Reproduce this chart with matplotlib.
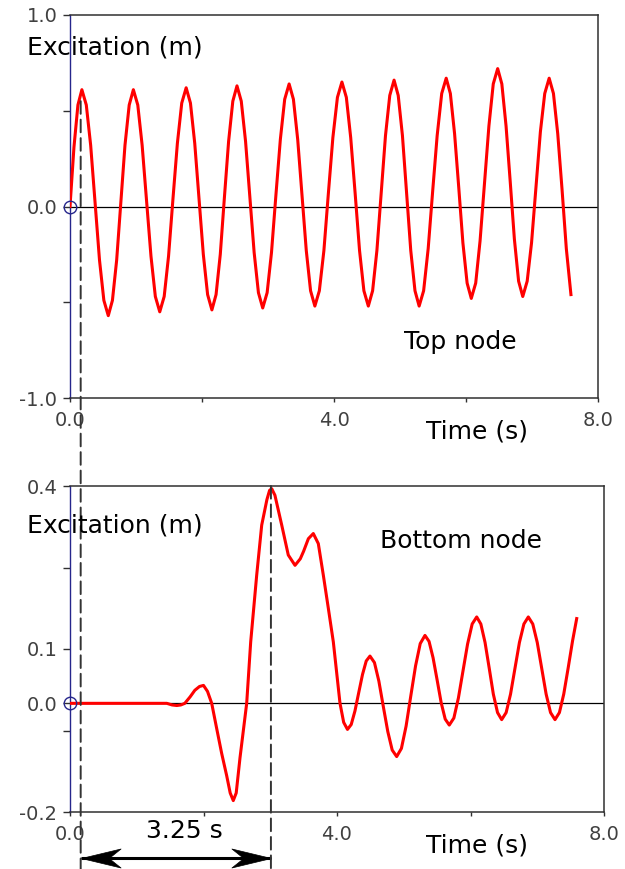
import matplotlib
matplotlib.use("Agg")
import matplotlib.pyplot as plt
from matplotlib.patches import ConnectionPatch
from matplotlib.path import Path
from matplotlib.transforms import blended_transform_factory

# ---------------- data ----------------
top_t = [0.00, 0.06, 0.12, 0.18,
         0.247, 0.313, 0.38, 0.447, 0.513, 0.58,
         0.643, 0.707, 0.77, 0.833, 0.897, 0.96,
         1.027, 1.093, 1.16, 1.227, 1.293, 1.36,
         1.427, 1.493, 1.56, 1.627, 1.693, 1.76,
         1.825, 1.89, 1.955, 2.02, 2.085, 2.15,
         2.213, 2.277, 2.34, 2.403, 2.467, 2.53,
         2.595, 2.66, 2.725, 2.79, 2.855, 2.92,
         2.987, 3.053, 3.12, 3.187, 3.253, 3.32,
         3.385, 3.45, 3.515, 3.58, 3.645, 3.71,
         3.778, 3.847, 3.915, 3.983, 4.052, 4.12,
         4.187, 4.253, 4.32, 4.387, 4.453, 4.52,
         4.585, 4.65, 4.715, 4.78, 4.845, 4.91,
         4.973, 5.037, 5.10, 5.163, 5.227, 5.29,
         5.358, 5.427, 5.495, 5.563, 5.632, 5.70,
         5.763, 5.827, 5.89, 5.953, 6.017, 6.08,
         6.147, 6.213, 6.28, 6.347, 6.413, 6.48,
         6.543, 6.607, 6.67, 6.733, 6.797, 6.86,
         6.927, 6.993, 7.06, 7.127, 7.193, 7.26,
         7.325, 7.39, 7.455, 7.52, 7.59]
top_v = [0.00, 0.31, 0.53, 0.61,
         0.53, 0.32, 0.02, -0.28, -0.49, -0.57,
         -0.49, -0.28, 0.02, 0.32, 0.53, 0.61,
         0.53, 0.32, 0.03, -0.26, -0.47, -0.55,
         -0.47, -0.26, 0.04, 0.33, 0.54, 0.62,
         0.54, 0.33, 0.04, -0.25, -0.46, -0.54,
         -0.46, -0.25, 0.05, 0.34, 0.55, 0.63,
         0.55, 0.34, 0.05, -0.24, -0.45, -0.53,
         -0.45, -0.24, 0.06, 0.35, 0.56, 0.64,
         0.56, 0.35, 0.06, -0.23, -0.44, -0.52,
         -0.44, -0.23, 0.07, 0.36, 0.57, 0.65,
         0.57, 0.36, 0.07, -0.23, -0.44, -0.52,
         -0.44, -0.23, 0.07, 0.37, 0.58, 0.66,
         0.58, 0.37, 0.07, -0.23, -0.44, -0.52,
         -0.44, -0.22, 0.08, 0.37, 0.59, 0.67,
         0.59, 0.38, 0.10, -0.19, -0.40, -0.48,
         -0.40, -0.18, 0.12, 0.42, 0.64, 0.72,
         0.64, 0.42, 0.13, -0.17, -0.39, -0.47,
         -0.39, -0.19, 0.10, 0.39, 0.59, 0.67,
         0.59, 0.38, 0.09, -0.22, -0.46]

bot_t = [0.00, 1.45, 1.53, 1.60, 1.66, 1.72,
         1.80, 1.87, 1.94, 2.00,
         2.06, 2.123, 2.197, 2.272, 2.347, 2.40, 2.446,
         2.49, 2.547, 2.647, 2.707, 2.797, 2.872, 2.95, 2.99, 3.022,
         3.07, 3.172, 3.27, 3.371,
         3.45, 3.50, 3.571, 3.645,
         3.72, 3.795, 3.87, 3.945, 4.045, 4.10, 4.157,
         4.213, 4.269, 4.326, 4.382, 4.438, 4.494,
         4.561, 4.627, 4.694, 4.761, 4.827, 4.894,
         4.965, 5.035, 5.106, 5.177, 5.247, 5.318,
         5.379, 5.439, 5.50, 5.561, 5.621, 5.682,
         5.751, 5.819, 5.888, 5.956, 6.025, 6.093,
         6.155, 6.218, 6.28, 6.342, 6.405, 6.467,
         6.534, 6.60, 6.667, 6.733, 6.80, 6.866,
         6.933, 7.0, 7.066, 7.133, 7.199, 7.266,
         7.332, 7.397, 7.463, 7.529, 7.591]
bot_v = [0.0, 0.0, -0.003, -0.004, -0.003, 0.0,
         0.012, 0.024, 0.031, 0.033,
         0.022, 0.0, -0.046, -0.092, -0.133, -0.165, -0.179,
         -0.165, -0.100, 0.0, 0.113, 0.236, 0.328, 0.375, 0.392, 0.395,
         0.383, 0.328, 0.273, 0.254,
         0.266, 0.280, 0.303, 0.3125,
         0.294, 0.236, 0.175, 0.113, 0.0, -0.035, -0.048,
         -0.039, -0.014, 0.020, 0.053, 0.078, 0.087,
         0.075, 0.041, -0.006, -0.052, -0.086, -0.098,
         -0.083, -0.042, 0.014, 0.069, 0.110, 0.125,
         0.114, 0.084, 0.043, 0.001, -0.029, -0.040,
         -0.027, 0.010, 0.060, 0.109, 0.146, 0.159,
         0.146, 0.112, 0.065, 0.017, -0.017, -0.030,
         -0.017, 0.017, 0.065, 0.112, 0.146, 0.159,
         0.146, 0.112, 0.065, 0.017, -0.017, -0.030,
         -0.017, 0.017, 0.065, 0.115, 0.156]

x_major = [0, 4, 8]
x_major_labels = ["0.0", "4.0", "8.0"]
x_minor = [2, 6]

top_y_major = [-1.0, 0.0, 1.0]
top_y_labels = ["-1.0", "0.0", "1.0"]
top_y_minor = [-0.5, 0.5]

bot_y_major = [-0.2, 0.0, 0.1, 0.4]
bot_y_labels = ["-0.2", "0.0", "0.1", "0.4"]
bot_y_minor = [-0.05, 0.25]

delay_start = 0.16   # s, first dashed marker
delay_end = 3.01     # s, second dashed marker
delay_label = "3.25 s"

# ---------------- figure ----------------
W, H = 625, 869
fig = plt.figure(figsize=(W / 100, H / 100), dpi=100)
plt.rcParams["font.family"] = ["DejaVu Sans"]

ax1 = fig.add_axes([70 / W, 1 - 398 / H, 528 / W, 383 / H])
ax2 = fig.add_axes([70 / W, 1 - 812 / H, 534 / W, 326 / H])

FRAME = "#303030"
BLUE = "#26268c"
RED = "#ff0000"


def style(ax, ylim, ymaj, ylab, ymin):
    ax.set_xlim(0, 8)
    ax.set_ylim(*ylim)
    for s in ["top", "right", "bottom"]:
        ax.spines[s].set_color(FRAME)
        ax.spines[s].set_linewidth(1.1)
    ax.spines["left"].set_color(BLUE)
    ax.spines["left"].set_linewidth(1.0)
    ax.set_xticks(x_major)
    ax.set_xticklabels(x_major_labels)
    ax.set_xticks(x_minor, minor=True)
    ax.set_yticks(ymaj)
    ax.set_yticklabels(ylab)
    ax.set_yticks(ymin, minor=True)
    ax.tick_params(which="both", direction="out", color=FRAME,
                   labelcolor="#404040", labelsize=14, width=1.0)
    ax.tick_params(axis="y", which="both", length=5, pad=4)
    ax.tick_params(axis="x", which="both", length=3, pad=6)
    ax.axhline(0, color="black", lw=0.9, zorder=1)
    ax.plot([0], [0], "o", mfc="none", mec=BLUE, ms=9, mew=1.0,
            clip_on=False, zorder=6)


style(ax1, (-1.0, 1.0), top_y_major, top_y_labels, top_y_minor)
style(ax2, (-0.2, 0.4), bot_y_major, bot_y_labels, bot_y_minor)

ax1.plot(top_t, top_v, color=RED, lw=2.2, zorder=4)
ax2.plot(bot_t, bot_v, color=RED, lw=2.2, zorder=4)

LABEL_FS = 18
fig.text(27 / W, 1 - 48 / H, "Excitation (m)", fontsize=LABEL_FS,
         ha="left", va="center", color="black")
fig.text(27 / W, 1 - 525 / H, "Excitation (m)", fontsize=LABEL_FS,
         ha="left", va="center", color="black")
fig.text(477 / W, 1 - 431 / H, "Time (s)", fontsize=LABEL_FS,
         ha="center", va="center", color="black")
fig.text(477 / W, 1 - 845 / H, "Time (s)", fontsize=LABEL_FS,
         ha="center", va="center", color="black")
fig.text(460 / W, 1 - 342 / H, "Top node", fontsize=LABEL_FS,
         ha="center", va="center", color="black")
fig.text(461 / W, 1 - 541 / H, "Bottom node", fontsize=LABEL_FS,
         ha="center", va="center", color="black")
fig.text(184 / W, 1 - 831 / H, delay_label, fontsize=18,
         ha="center", va="center", color="black")

# dashed markers spanning both panels
tr_x2_y1 = blended_transform_factory(ax2.transData, ax1.transData)
tr_x2_fig = blended_transform_factory(ax2.transData, fig.transFigure)
dash = (0, (6.5, 3))
c1 = ConnectionPatch(xyA=(delay_start, 0.55), coordsA=tr_x2_y1,
                     xyB=(delay_start, 0.0), coordsB=tr_x2_fig,
                     linestyle=dash, color="#333333", lw=1.4, zorder=3)
c2 = ConnectionPatch(xyA=(delay_end, 0.4), coordsA=ax2.transData,
                     xyB=(delay_end, 0.0), coordsB=tr_x2_fig,
                     linestyle=dash, color="#333333", lw=1.4, zorder=3)
fig.add_artist(c1)
fig.add_artist(c2)

# double-headed dimension arrow with swept arrowheads
arrow_y = 1 - 858 / H
head_left = Path([(0, 0), (1.0, 0.24), (0.70, 0.0), (1.0, -0.24), (0, 0)],
                 [Path.MOVETO, Path.LINETO, Path.LINETO, Path.LINETO,
                  Path.CLOSEPOLY])
head_right = Path([(0, 0), (-1.0, 0.24), (-0.70, 0.0), (-1.0, -0.24), (0, 0)],
                  [Path.MOVETO, Path.LINETO, Path.LINETO, Path.LINETO,
                   Path.CLOSEPOLY])
ax2.plot([delay_start, delay_end], [arrow_y, arrow_y], color="black",
         lw=2.2, transform=tr_x2_fig, clip_on=False, zorder=7,
         solid_capstyle="butt")
ax2.plot([delay_start], [arrow_y], marker=head_left, ms=57, mfc="black",
         mec="black", mew=0.5, transform=tr_x2_fig, clip_on=False, zorder=8,
         linestyle="none")
ax2.plot([delay_end], [arrow_y], marker=head_right, ms=57, mfc="black",
         mec="black", mew=0.5, transform=tr_x2_fig, clip_on=False, zorder=8,
         linestyle="none")

fig.savefig("out.png", dpi=100)
